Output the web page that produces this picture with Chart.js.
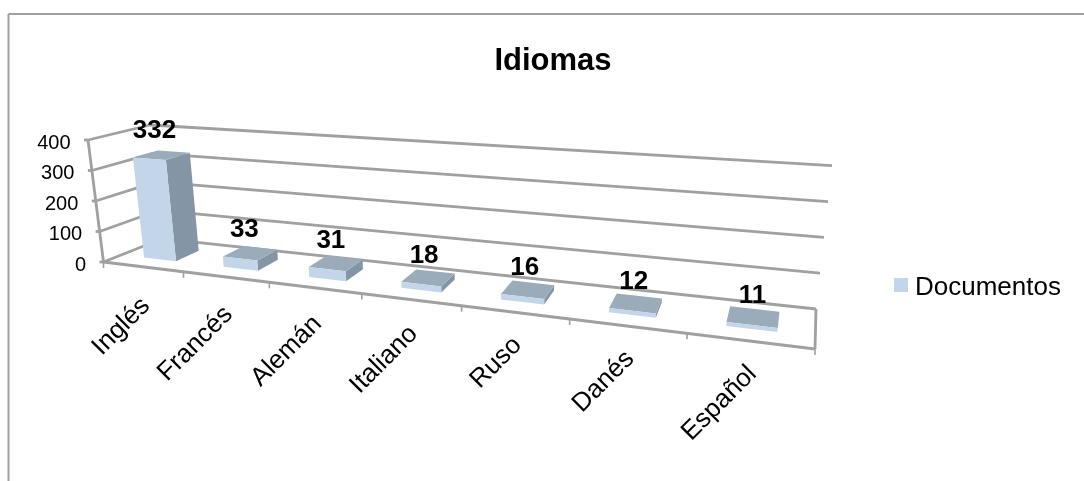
<!DOCTYPE html>
<html>
<head>
<meta charset="utf-8">
<style>
  html, body { margin: 0; padding: 0; background: #fff; }
  canvas { display: block; }
</style>
<script src="https://cdn.jsdelivr.net/npm/chart.js@4/dist/chart.umd.min.js"></script>
</head>
<body>
<canvas id="chart" width="1084" height="481"></canvas>
<script>
// --- data ---
const categories = ['Inglés', 'Francés', 'Alemán', 'Italiano', 'Ruso', 'Danés', 'Español'];
const seriesName = 'Documentos';
const documentos = [332, 33, 31, 18, 16, 12, 11];
const chartTitle = 'Idiomas';
const yMax = 400;
const yStep = 100;

// --- look ---
const FONT = '"Liberation Sans", Arial, sans-serif';
const GRID = '#a0a0a0';
const FRONT = '#c3d5e8';
const SIDE = '#8495a6';
const TOP = '#9aabba';

// corners of the 3d box on screen: [u, v] at front and back (u = along x axis, v = up)
const box = {
  front: { l0: [103.5, 262], r0: [815, 349], l1: [88, 140], r1: [828, 196] },
  back: { l0: [162, 238.7], r0: [816, 309], l1: [150, 125], r1: [832, 165.7] }
};
const rightW = 0.76; // perspective: right side is closer
const barDepth = [0.31, 0.73];

function project(u, v, d) {
  const wl = 1 - u, wr = u * rightW, den = wl + wr;
  const mix = (a, b, i) => (wl * a[i] + wr * b[i]) / den;
  const pt = (p) => {
    const bx = mix(p.l0, p.r0, 0), by = mix(p.l0, p.r0, 1);
    const tx = mix(p.l1, p.r1, 0), ty = mix(p.l1, p.r1, 1);
    return [bx + (tx - bx) * v, by + (ty - by) * v];
  };
  const f = pt(box.front), b = pt(box.back);
  return [f[0] + (b[0] - f[0]) * d, f[1] + (b[1] - f[1]) * d];
}

function line(ctx, a, b, width) {
  ctx.beginPath();
  ctx.moveTo(a[0], a[1]);
  ctx.lineTo(b[0], b[1]);
  ctx.lineWidth = width || 2.8;
  ctx.strokeStyle = GRID;
  ctx.stroke();
}

function face(ctx, pts, color) {
  ctx.beginPath();
  pts.forEach((p, i) => i ? ctx.lineTo(p[0], p[1]) : ctx.moveTo(p[0], p[1]));
  ctx.closePath();
  ctx.fillStyle = color;
  ctx.fill();
}

// the library's scales give the flat position, project() puts it in the 3d box
const perspective = {
  id: 'perspective',
  beforeDatasetDraw(chart, args) {
    const { ctx, chartArea: area, scales } = chart;
    const toU = (x) => (x - area.left) / (area.right - area.left);
    const toV = (y) => (area.bottom - y) / (area.bottom - area.top);

    // frame around the chart
    ctx.save();
    line(ctx, [8.5, 14], [1084, 14], 2);
    line(ctx, [8.5, 14], [8.5, 481], 2);

    // walls
    scales.y.ticks.forEach(t => {
      const v = toV(scales.y.getPixelForValue(t.value));
      line(ctx, project(0, v, 0), project(0, v, 1));
      line(ctx, project(0, v, 1), project(1, v, 1));
      const a = project(0, v, 0);
      line(ctx, a, [a[0] - 4, a[1]]);
      ctx.fillStyle = '#000';
      ctx.font = '20px ' + FONT;
      ctx.textAlign = 'right';
      ctx.textBaseline = 'middle';
      ctx.fillText(t.label, a[0] - 17.5, a[1] + 3);
    });
    line(ctx, project(0, 0, 0), project(0, 1, 0));
    line(ctx, project(1, 0, 0), project(1, 0, 1));
    line(ctx, project(0, 0, 0), project(1, 0, 0));

    // ticks and category labels on the front edge
    categories.forEach((c, i) => {
      const u = toU(scales.x.getPixelForValue(i));
      const a = project(u - 0.5 / categories.length, 0, 0);
      line(ctx, a, [a[0], a[1] + 6], 1.6);
      const m = project(u, 0, 0);
      ctx.save();
      ctx.translate(m[0] + 3, m[1] + Math.max(29, 36 - 11 * u));
      ctx.rotate(-Math.PI / 4);
      ctx.fillStyle = '#000';
      ctx.font = '26px ' + FONT;
      ctx.textAlign = 'right';
      ctx.textBaseline = 'middle';
      ctx.fillText(c, 0, 0);
      ctx.restore();
    });
    const end = project(1, 0, 0);
    line(ctx, end, [end[0], end[1] + 6], 1.6);

    // bars
    const meta = chart.getDatasetMeta(args.index);
    const [d0, d1] = barDepth;
    meta.data.forEach((bar) => {
      const ul = toU(bar.x - bar.width / 2), ur = toU(bar.x + bar.width / 2);
      const vt = toV(bar.y), vb = toV(bar.base);
      face(ctx, [project(ur, vb, d0), project(ur, vb, d1), project(ur, vt, d1), project(ur, vt, d0)], SIDE);
      face(ctx, [project(ul, vt, d0), project(ur, vt, d0), project(ur, vt, d1), project(ul, vt, d1)], TOP);
      face(ctx, [project(ul, vb, d0), project(ur, vb, d0), project(ur, vt, d0), project(ul, vt, d0)], FRONT);
    });
    meta.data.forEach((bar, i) => {
      const p = project(toU(bar.x), toV(bar.y), 0.4);
      ctx.fillStyle = '#000';
      ctx.font = 'bold 26px ' + FONT;
      ctx.textAlign = 'center';
      ctx.textBaseline = 'middle';
      ctx.fillText(documentos[i], p[0], p[1] - 26);
    });

    // legend
    ctx.fillStyle = FRONT;
    ctx.fillRect(894, 278, 14, 14);
    ctx.fillStyle = '#000';
    ctx.font = '26px ' + FONT;
    ctx.textAlign = 'left';
    ctx.textBaseline = 'middle';
    ctx.fillText(chart.data.datasets[args.index].label, 915, 288);
    ctx.restore();
    return false;
  }
};

new Chart(document.getElementById('chart'), {
  type: 'bar',
  data: {
    labels: categories,
    datasets: [{
      label: seriesName,
      data: documentos,
      backgroundColor: FRONT,
      barPercentage: 0.41,
      categoryPercentage: 1
    }]
  },
  options: {
    responsive: false,
    animation: false,
    layout: { padding: { left: 22 } },
    scales: {
      x: { display: false },
      y: { display: false, min: 0, max: yMax, ticks: { stepSize: yStep } }
    },
    plugins: {
      legend: { display: false },
      tooltip: { enabled: false },
      title: {
        display: true,
        text: chartTitle,
        color: '#000',
        font: { family: FONT, size: 31, weight: 'bold' },
        padding: { top: 43, bottom: 10 }
      }
    }
  },
  plugins: [perspective]
});
</script>
</body>
</html>
